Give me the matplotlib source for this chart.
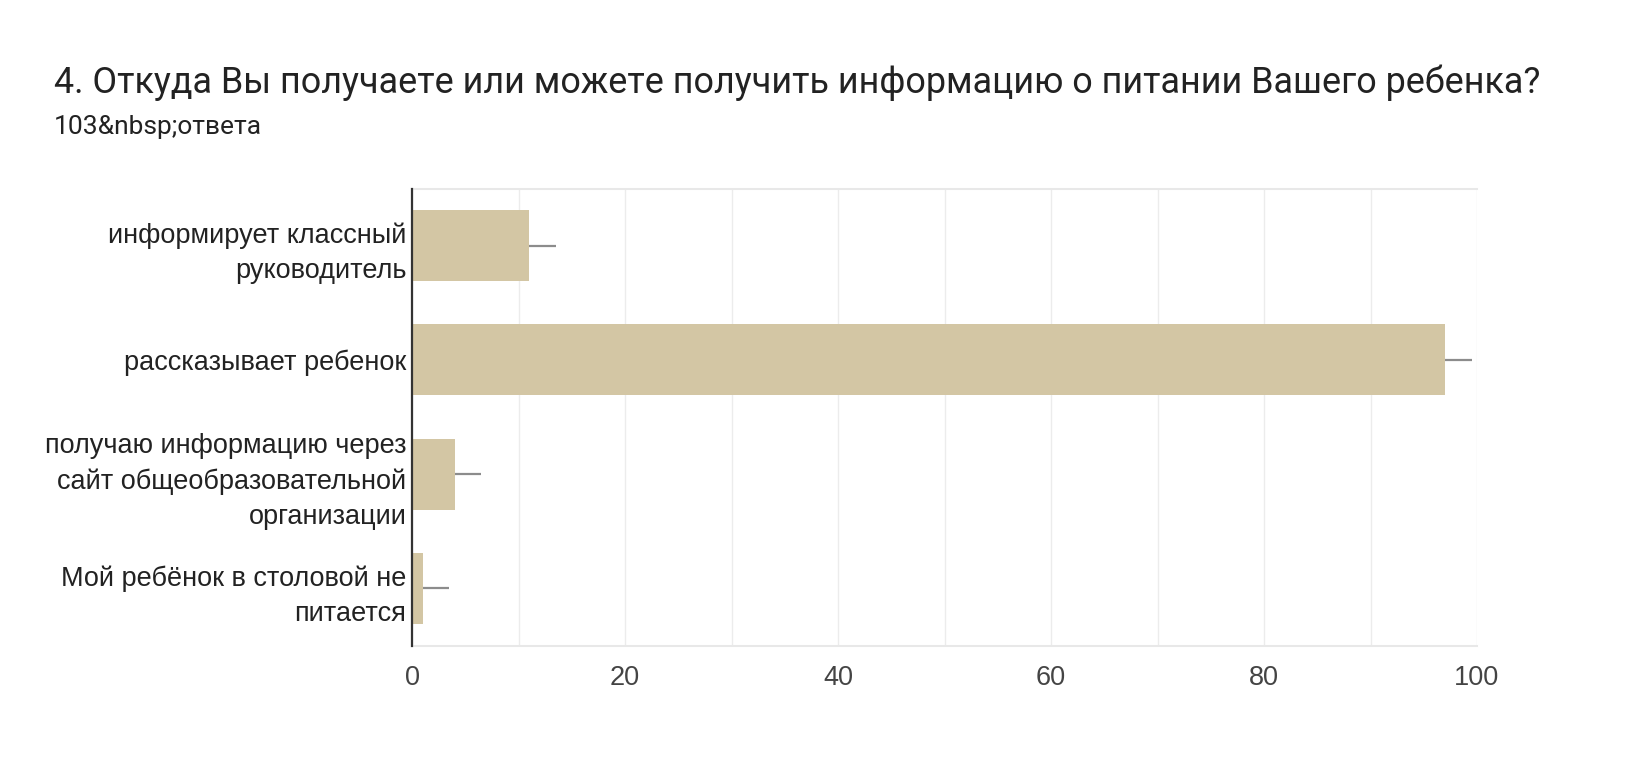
import numpy as np
from matplotlib import pyplot as plt

categories = [
    "информирует классный\nруководитель",
    "рассказывает ребенок",
    "получаю информацию через\nсайт общеобразовательной\nорганизации",
    "Мой ребёнок в столовой не\nпитается",
]
counts = [11, 97, 4, 1]
xticks = [0, 20, 40, 60, 80, 100]

bar_colour = "#d3c6a4"
text_colour = "#222222"
tick_colour = "#444444"

W, H = 1643, 781
fig = plt.figure(figsize=(W / 100, H / 100), dpi=100)
ax = fig.add_axes([412 / W, 1 - 645.5 / H, (1477 - 412) / W, (645.5 - 188.5) / H])

y = np.arange(len(categories))
ax.barh(y, counts, height=0.62, color=bar_colour, zorder=2)

# short grey stub at the end of each bar
for yi, c in zip(y, counts):
    ax.plot([c, c + 2.5], [yi, yi], color="#8c8c8c", lw=1.6, zorder=3,
            solid_capstyle="butt")

ax.set_xlim(0, 100)
ax.set_ylim(len(categories) - 0.5, -0.5)

ax.set_xticks(xticks)
ax.set_xticks(np.arange(10, 100, 20), minor=True)
ax.xaxis.grid(True, which="both", color="#ececec", lw=1.0, zorder=0)
ax.set_xticklabels(xticks, fontsize=19.5, color=tick_colour, family="Liberation Sans")
ax.tick_params(axis="x", which="both", length=0, pad=14)

ax.set_yticks(y)
ax.set_yticklabels(categories, fontsize=19.5, color=text_colour,
                   family="Liberation Sans", linespacing=1.45)
ax.tick_params(axis="y", length=0, pad=4)

for s in ["top", "bottom"]:
    ax.spines[s].set_color("#e8e8e8")
    ax.spines[s].set_linewidth(1.5)
ax.spines["right"].set_visible(False)
ax.spines["left"].set_color("#333333")
ax.spines["left"].set_linewidth(1.6)
ax.spines["left"].set_zorder(4)

fig.text(54 / W, 1 - 83 / H,
         "4. Откуда Вы получаете или можете получить информацию о питании Вашего ребенка?",
         fontsize=25.8, color=text_colour, family="Roboto", va="center")
fig.text(54 / W, 1 - 127 / H, "103&nbsp;ответа",
         fontsize=19, color=text_colour, family="Roboto", va="center")

fig.savefig("out.png", dpi=100, facecolor="white")
